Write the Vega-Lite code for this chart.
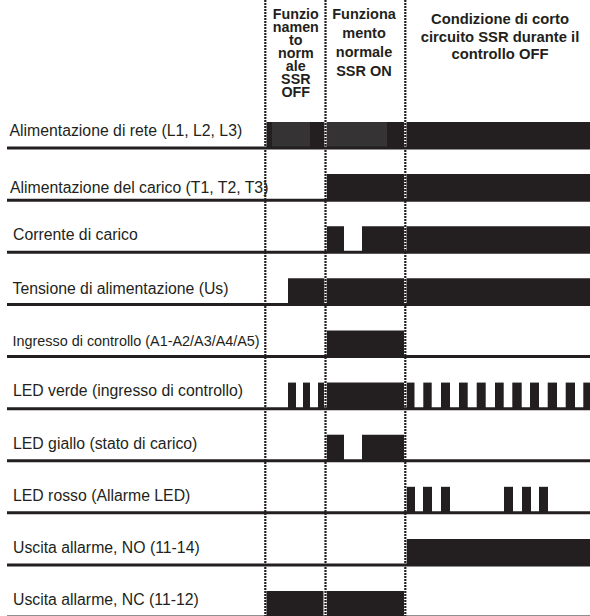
{
  "$schema": "https://vega.github.io/schema/vega-lite/v6.json",
  "width": 590,
  "height": 616,
  "padding": 0,
  "autosize": {"type": "none"},
  "background": "#ffffff",
  "config": {"view": {"stroke": null}},
  "datasets": {
    "bars": [
      {"signal": "Alimentazione di rete (L1, L2, L3)", "start": 266, "end": 590, "tone": "high"},
      {"signal": "Alimentazione del carico (T1, T2, T3)", "start": 326.5, "end": 590, "tone": "high"},
      {"signal": "Corrente di carico", "start": 326.5, "end": 344, "tone": "high"},
      {"signal": "Corrente di carico", "start": 362, "end": 590, "tone": "high"},
      {"signal": "Tensione di alimentazione (Us)", "start": 288, "end": 590, "tone": "high"},
      {"signal": "Ingresso di controllo (A1-A2/A3/A4/A5)", "start": 326.5, "end": 404, "tone": "high"},
      {"signal": "LED verde (ingresso di controllo)", "start": 288, "end": 296, "tone": "high"},
      {"signal": "LED verde (ingresso di controllo)", "start": 303, "end": 310, "tone": "high"},
      {"signal": "LED verde (ingresso di controllo)", "start": 318, "end": 324, "tone": "high"},
      {"signal": "LED verde (ingresso di controllo)", "start": 326.5, "end": 404, "tone": "high"},
      {"signal": "LED verde (ingresso di controllo)", "start": 406.5, "end": 414.5, "tone": "high"},
      {"signal": "LED verde (ingresso di controllo)", "start": 423.3, "end": 431.7, "tone": "high"},
      {"signal": "LED verde (ingresso di controllo)", "start": 441, "end": 450, "tone": "high"},
      {"signal": "LED verde (ingresso di controllo)", "start": 459, "end": 467.7, "tone": "high"},
      {"signal": "LED verde (ingresso di controllo)", "start": 476.7, "end": 485.7, "tone": "high"},
      {"signal": "LED verde (ingresso di controllo)", "start": 495, "end": 503.7, "tone": "high"},
      {"signal": "LED verde (ingresso di controllo)", "start": 512.3, "end": 521.7, "tone": "high"},
      {"signal": "LED verde (ingresso di controllo)", "start": 530, "end": 539, "tone": "high"},
      {"signal": "LED verde (ingresso di controllo)", "start": 547.7, "end": 557, "tone": "high"},
      {"signal": "LED verde (ingresso di controllo)", "start": 565.7, "end": 575, "tone": "high"},
      {"signal": "LED verde (ingresso di controllo)", "start": 583.3, "end": 590, "tone": "high"},
      {"signal": "LED giallo (stato di carico)", "start": 326.5, "end": 344, "tone": "high"},
      {"signal": "LED giallo (stato di carico)", "start": 362, "end": 404, "tone": "high"},
      {"signal": "LED rosso (Allarme LED)", "start": 406.5, "end": 415, "tone": "high"},
      {"signal": "LED rosso (Allarme LED)", "start": 423, "end": 432, "tone": "high"},
      {"signal": "LED rosso (Allarme LED)", "start": 441, "end": 450, "tone": "high"},
      {"signal": "LED rosso (Allarme LED)", "start": 504, "end": 513, "tone": "high"},
      {"signal": "LED rosso (Allarme LED)", "start": 522, "end": 531, "tone": "high"},
      {"signal": "LED rosso (Allarme LED)", "start": 539, "end": 548, "tone": "high"},
      {"signal": "Uscita allarme, NO (11-14)", "start": 406.5, "end": 590, "tone": "high"},
      {"signal": "Uscita allarme, NC (11-12)", "start": 266, "end": 323.5, "tone": "high"},
      {"signal": "Uscita allarme, NC (11-12)", "start": 326.5, "end": 404, "tone": "high"},
      {"signal": "Alimentazione di rete (L1, L2, L3)", "start": 272, "end": 310, "tone": "shade"},
      {"signal": "Alimentazione di rete (L1, L2, L3)", "start": 327, "end": 387, "tone": "shade"}
    ],
    "rows": [
      {"signal": "Alimentazione di rete (L1, L2, L3)"},
      {"signal": "Alimentazione del carico (T1, T2, T3)"},
      {"signal": "Corrente di carico"},
      {"signal": "Tensione di alimentazione (Us)"},
      {"signal": "Ingresso di controllo (A1-A2/A3/A4/A5)"},
      {"signal": "LED verde (ingresso di controllo)"},
      {"signal": "LED giallo (stato di carico)"},
      {"signal": "LED rosso (Allarme LED)"},
      {"signal": "Uscita allarme, NO (11-14)"},
      {"signal": "Uscita allarme, NC (11-12)"}
    ],
    "phases": [
      {"t": 265.3},
      {"t": 325.5},
      {"t": 405.3}
    ],
    "headers": [
      {"col": 1, "t": 295.8, "text": "Funzio\nnamen\nto\nnorm\nale\nSSR\nOFF"},
      {"col": 2, "t": 364, "text": "Funziona\nmento\nnormale\nSSR ON"},
      {"col": 3, "t": 500, "text": "Condizione di corto\ncircuito SSR durante il\ncontrollo OFF"}
    ]
  },
  "layer": [
    {
      "data": {"name": "bars"},
      "mark": {"type": "rect"},
      "encoding": {
        "x": {"field": "start", "type": "quantitative", "scale": {"domain": [0, 590], "nice": false, "zero": false}, "axis": null},
        "x2": {"field": "end"},
        "y": {
          "field": "signal", "type": "nominal", "sort": null,
          "scale": {
            "domain": ["Alimentazione di rete (L1, L2, L3)", "Alimentazione del carico (T1, T2, T3)", "Corrente di carico", "Tensione di alimentazione (Us)", "Ingresso di controllo (A1-A2/A3/A4/A5)", "LED verde (ingresso di controllo)", "LED giallo (stato di carico)", "LED rosso (Allarme LED)", "Uscita allarme, NO (11-14)", "Uscita allarme, NC (11-12)"],
            "range": [122, 617.1], "paddingInner": 0.5, "paddingOuter": 0
          },
          "axis": null
        },
        "color": {"field": "tone", "type": "nominal", "scale": {"domain": ["high", "shade"], "range": ["#231f20", "#353334"]}, "legend": null}
      }
    },
    {
      "data": {"name": "phases"},
      "mark": {"type": "rule", "color": "#ffffff", "strokeWidth": 2.4},
      "encoding": {
        "x": {"field": "t", "type": "quantitative", "scale": {"domain": [0, 590], "nice": false, "zero": false}, "axis": null}
      }
    },
    {
      "data": {"name": "phases"},
      "mark": {"type": "rule", "color": "#231f20", "strokeWidth": 2.2, "strokeDash": [2, 1]},
      "encoding": {
        "x": {"field": "t", "type": "quantitative", "scale": {"domain": [0, 590], "nice": false, "zero": false}, "axis": null}
      }
    },
    {
      "data": {"name": "rows"},
      "mark": {"type": "rule", "color": "#231f20", "strokeWidth": 3},
      "encoding": {
        "x": {"datum": 7, "type": "quantitative", "scale": {"domain": [0, 590], "nice": false, "zero": false}, "axis": null},
        "x2": {"datum": 590},
        "y": {"field": "signal", "type": "nominal", "sort": null, "bandPosition": 1, "axis": null}
      }
    },
    {
      "data": {"name": "rows"},
      "transform": [{"filter": {"field": "signal", "oneOf": ["Corrente di carico", "LED verde (ingresso di controllo)", "LED giallo (stato di carico)", "LED rosso (Allarme LED)", "Uscita allarme, NO (11-14)", "Uscita allarme, NC (11-12)"]}}],
      "mark": {"type": "text", "font": "Liberation Sans", "fontSize": 15.8, "align": "left", "baseline": "alphabetic", "dy": 0.8, "color": "#231f20"},
      "encoding": {
        "x": {"datum": 13, "type": "quantitative", "axis": null},
        "y": {"field": "signal", "type": "nominal", "sort": null, "axis": null},
        "text": {"field": "signal"}
      }
    },
    {
      "data": {"name": "rows"},
      "transform": [{"filter": {"field": "signal", "oneOf": ["Alimentazione di rete (L1, L2, L3)"]}}],
      "mark": {"type": "text", "font": "Liberation Sans", "fontSize": 15.8, "align": "left", "baseline": "alphabetic", "dy": 1, "color": "#231f20"},
      "encoding": {
        "x": {"datum": 9.5, "type": "quantitative", "axis": null},
        "y": {"field": "signal", "type": "nominal", "sort": null, "axis": null},
        "text": {"field": "signal"}
      }
    },
    {
      "data": {"name": "rows"},
      "transform": [{"filter": {"field": "signal", "oneOf": ["Alimentazione del carico (T1, T2, T3)"]}}],
      "mark": {"type": "text", "font": "Liberation Sans", "fontSize": 15.8, "align": "left", "baseline": "alphabetic", "dy": 5.5, "color": "#231f20"},
      "encoding": {
        "x": {"datum": 10, "type": "quantitative", "axis": null},
        "y": {"field": "signal", "type": "nominal", "sort": null, "axis": null},
        "text": {"field": "signal"}
      }
    },
    {
      "data": {"name": "rows"},
      "transform": [{"filter": {"field": "signal", "oneOf": ["Tensione di alimentazione (Us)", "Ingresso di controllo (A1-A2/A3/A4/A5)"]}}],
      "mark": {"type": "text", "font": "Liberation Sans", "align": "left", "baseline": "alphabetic", "dy": 3, "color": "#231f20"},
      "encoding": {
        "x": {"datum": 12.5, "type": "quantitative", "axis": null},
        "y": {"field": "signal", "type": "nominal", "sort": null, "axis": null},
        "text": {"field": "signal"},
        "size": {"condition": {"test": "datum.signal === 'Ingresso di controllo (A1-A2/A3/A4/A5)'", "value": 14.4}, "value": 15.8}
      }
    },
    {
      "data": {"name": "headers"},
      "transform": [{"filter": "datum.col == 1"}],
      "mark": {"type": "text", "font": "Liberation Sans", "fontWeight": "bold", "fontSize": 14.3, "lineHeight": 13.1, "lineBreak": "\n", "align": "center", "baseline": "alphabetic", "dy": -116.5, "color": "#231f20"},
      "encoding": {
        "x": {"field": "t", "type": "quantitative", "axis": null},
        "y": {"datum": "Alimentazione di rete (L1, L2, L3)", "type": "nominal", "axis": null},
        "text": {"field": "text"}
      }
    },
    {
      "data": {"name": "headers"},
      "transform": [{"filter": "datum.col == 2"}],
      "mark": {"type": "text", "font": "Liberation Sans", "fontWeight": "bold", "fontSize": 14.5, "lineHeight": 19.2, "lineBreak": "\n", "align": "center", "baseline": "alphabetic", "dy": -116.5, "color": "#231f20"},
      "encoding": {
        "x": {"field": "t", "type": "quantitative", "axis": null},
        "y": {"datum": "Alimentazione di rete (L1, L2, L3)", "type": "nominal", "axis": null},
        "text": {"field": "text"}
      }
    },
    {
      "data": {"name": "headers"},
      "transform": [{"filter": "datum.col == 3"}],
      "mark": {"type": "text", "font": "Liberation Sans", "fontWeight": "bold", "fontSize": 14.8, "lineHeight": 17.5, "lineBreak": "\n", "align": "center", "baseline": "alphabetic", "dy": -111, "color": "#231f20"},
      "encoding": {
        "x": {"field": "t", "type": "quantitative", "axis": null},
        "y": {"datum": "Alimentazione di rete (L1, L2, L3)", "type": "nominal", "axis": null},
        "text": {"field": "text"}
      }
    }
  ]
}
